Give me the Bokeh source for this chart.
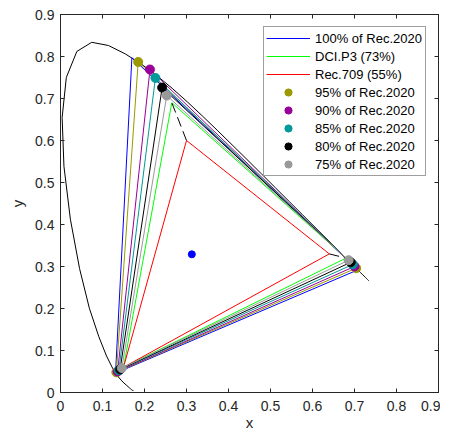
from bokeh.plotting import figure
from bokeh.models import (FixedTicker, CustomJSTickFormatter, LinearAxis, Legend,
                          LegendItem, Range1d)
from bokeh.embed import file_html
from bokeh.resources import INLINE

# CIE 1931 spectral locus (380-700 nm, 5 nm)
locus_x = [0.1741, 0.1740, 0.1738, 0.1736, 0.1733, 0.1730, 0.1726, 0.1721, 0.1714, 0.1703,
           0.1689, 0.1669, 0.1644, 0.1611, 0.1566, 0.1510, 0.1440, 0.1355, 0.1241, 0.1096,
           0.0913, 0.0687, 0.0454, 0.0235, 0.0082, 0.0039, 0.0139, 0.0389, 0.0743, 0.1142,
           0.1547, 0.1929, 0.2296, 0.2658, 0.3016, 0.3373, 0.3731, 0.4087, 0.4441, 0.4788,
           0.5125, 0.5448, 0.5752, 0.6029, 0.6270, 0.6482, 0.6658, 0.6801, 0.6915, 0.7006,
           0.7079, 0.7140, 0.7190, 0.7230, 0.7260, 0.7283, 0.7300, 0.7311, 0.7320, 0.7327,
           0.7334, 0.7340, 0.7344, 0.7346, 0.7347]
locus_y = [0.0050, 0.0050, 0.0049, 0.0049, 0.0048, 0.0048, 0.0048, 0.0048, 0.0051, 0.0058,
           0.0069, 0.0086, 0.0109, 0.0138, 0.0177, 0.0227, 0.0297, 0.0399, 0.0578, 0.0868,
           0.1327, 0.2007, 0.2950, 0.4127, 0.5384, 0.6548, 0.7502, 0.8120, 0.8338, 0.8262,
           0.8059, 0.7816, 0.7543, 0.7243, 0.6923, 0.6589, 0.6245, 0.5896, 0.5547, 0.5202,
           0.4866, 0.4544, 0.4242, 0.3965, 0.3725, 0.3514, 0.3340, 0.3197, 0.3083, 0.2993,
           0.2920, 0.2859, 0.2809, 0.2770, 0.2740, 0.2717, 0.2700, 0.2689, 0.2680, 0.2673,
           0.2666, 0.2660, 0.2656, 0.2654, 0.2653]

# Primaries (R, G, B)
rec2020_x = [0.708, 0.170, 0.131]
rec2020_y = [0.292, 0.797, 0.046]
dcip3_x = [0.680, 0.265, 0.150]
dcip3_y = [0.320, 0.690, 0.060]
rec709_x = [0.640, 0.300, 0.150]
rec709_y = [0.330, 0.600, 0.060]
white_x = [0.3127]
white_y = [0.3290]

# Reduced gamuts (95, 90, 85, 80, 75 % of Rec.2020)
scaled_labels = ["95% of Rec.2020", "90% of Rec.2020", "85% of Rec.2020",
                 "80% of Rec.2020", "75% of Rec.2020"]
scaled_colors = ["#999900", "#990099", "#009999", "#000000", "#999999"]
red_x = [0.704, 0.700, 0.696, 0.691, 0.686]
red_y = [0.296, 0.300, 0.305, 0.310, 0.315]
green_x = [0.185, 0.213, 0.226, 0.242, 0.253]
green_y = [0.787, 0.769, 0.749, 0.726, 0.707]
blue_x = [0.133, 0.136, 0.139, 0.142, 0.146]
blue_y = [0.048, 0.050, 0.053, 0.055, 0.058]

main_labels = ["100% of Rec.2020", "DCI.P3 (73%)", "Rec.709 (55%)"]
main_colors = ["#0000ff", "#00ff00", "#ff0000"]

ticks = [0, 0.1, 0.2, 0.3, 0.4, 0.5, 0.6, 0.7, 0.8, 0.9]

FONT = "Liberation Sans"
AX = "#262626"

p = figure(frame_width=378, frame_height=378, x_range=Range1d(0, 0.9), y_range=Range1d(0, 0.9),
           output_backend="svg", toolbar_location=None,
           min_border_left=60, min_border_right=2, min_border_top=14, min_border_bottom=30)
p.grid.visible = False
p.outline_line_color = AX
p.background_fill_color = "white"
p.border_fill_color = "white"

fmt = CustomJSTickFormatter(code="return tick === 0 ? '0' : tick.toFixed(1);")
for ax in (p.xaxis[0], p.yaxis[0]):
    ax.ticker = FixedTicker(ticks=ticks)
    ax.formatter = fmt
    ax.major_tick_in = 4
    ax.major_tick_out = 0
    ax.minor_tick_in = 0
    ax.minor_tick_out = 0
    ax.axis_line_color = AX
    ax.major_tick_line_color = AX
    ax.major_label_text_color = AX
    ax.major_label_text_font = FONT
    ax.major_label_text_font_size = "14px"
    ax.axis_label_text_font = FONT
    ax.axis_label_text_font_size = "15px"
    ax.axis_label_text_font_style = "normal"
    ax.axis_label_text_color = AX
p.xaxis[0].axis_label = "x"
p.yaxis[0].axis_label = "y"
p.xaxis[0].major_label_standoff = 8
p.xaxis[0].axis_label_standoff = 0
p.yaxis[0].major_label_standoff = 6
p.yaxis[0].axis_label_standoff = 6

empty = CustomJSTickFormatter(code="return '';")
for loc in ("above", "right"):
    ax = LinearAxis(ticker=FixedTicker(ticks=ticks), formatter=empty,
                    major_tick_in=4, major_tick_out=0, minor_tick_in=0, minor_tick_out=0,
                    axis_line_color=AX, major_tick_line_color=AX,
                    major_label_text_font_size="0px", major_label_standoff=0)
    p.add_layout(ax, loc)

# spectral locus
p.line(locus_x, locus_y, line_color="black", line_width=1)

# main gamut triangles
main_r = []
for xs, ys, c in ((rec2020_x, rec2020_y, main_colors[0]),
                  (dcip3_x, dcip3_y, main_colors[1]),
                  (rec709_x, rec709_y, main_colors[2])):
    r = p.line(xs + xs[:1], ys + ys[:1], line_color=c, line_width=1)
    main_r.append(r)

# reduced gamut triangles
for i in range(len(scaled_labels)):
    xs = [red_x[i], green_x[i], blue_x[i], red_x[i]]
    ys = [red_y[i], green_y[i], blue_y[i], red_y[i]]
    p.line(xs, ys, line_color=scaled_colors[i], line_width=1)

# connection lines Rec.709 -> DCI.P3
for k in (0, 1):
    p.line([rec709_x[k], dcip3_x[k]], [rec709_y[k], dcip3_y[k]],
           line_color="black", line_width=1, line_dash="10 5")

# vertex dots
dot_r = []
for i in range(len(scaled_labels)):
    r = p.scatter([red_x[i], green_x[i], blue_x[i]], [red_y[i], green_y[i], blue_y[i]],
                  size=9, fill_color=scaled_colors[i], line_color=scaled_colors[i])
    dot_r.append(r)

# white point
p.scatter(white_x, white_y, size=7, fill_color="#0000ff", line_color="#0000ff")

items = [LegendItem(label=l, renderers=[r]) for l, r in zip(main_labels, main_r)]
items += [LegendItem(label=l, renderers=[r]) for l, r in zip(scaled_labels, dot_r)]
legend = Legend(items=items, location="top_right", margin=12, padding=2, spacing=0,
                label_height=18, glyph_height=18, glyph_width=44, label_standoff=5,
                label_width=108, label_text_font=FONT, label_text_font_size="13px",
                label_text_color="black", border_line_color="#404040", border_line_width=1,
                background_fill_color="white", background_fill_alpha=1.0)
p.add_layout(legend, "center")

open("out.html", "w").write(file_html(p, INLINE))
